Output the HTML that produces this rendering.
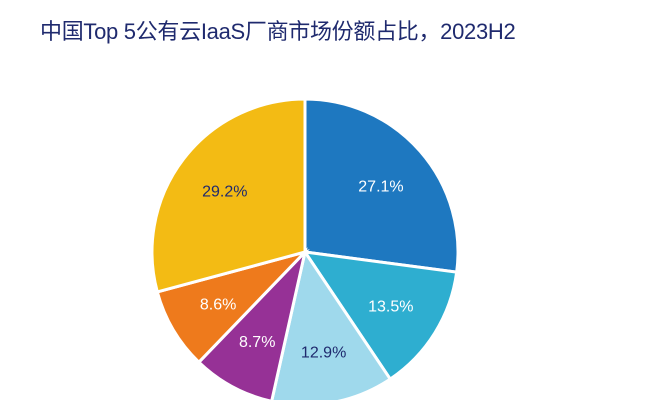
<!DOCTYPE html>
<html><head><meta charset="utf-8"><style>
body{margin:0;width:645px;height:400px;overflow:hidden;background:#fff;}
#title{position:absolute;left:40px;top:14px;font:22px "Liberation Sans","Noto Sans CJK SC",sans-serif;color:#1f2a6e;letter-spacing:-0.3px;white-space:nowrap;}
svg{position:absolute;left:0;top:0;}
</style></head><body>
<div id="title">中国Top 5公有云IaaS厂商市场份额占比，2023H2</div>
<svg id="chart" width="645" height="400"></svg>
<script>
const labels=["27.1%","13.5%","12.9%","8.7%","8.6%","29.2%"];
const values=[27.1,13.5,12.9,8.7,8.6,29.2];
const colors=["#1e78c0","#2eaed0","#9fd9ec","#963196","#ee7a1c","#f3bb14"];
const cx=305,cy=252,r=153;
const svg=document.getElementById('chart');
const ns="http://www.w3.org/2000/svg";
const total=values.reduce((a,b)=>a+b,0);
let a0=0;
values.forEach((v,i)=>{
 const a1=a0+v/total*2*Math.PI;
 const p=(a)=>[cx+r*Math.sin(a),cy-r*Math.cos(a)];
 const [x0,y0]=p(a0),[x1,y1]=p(a1);
 const path=document.createElementNS(ns,'path');
 path.setAttribute('d',`M${cx},${cy}L${x0},${y0}A${r},${r} 0 ${a1-a0>Math.PI?1:0} 1 ${x1},${y1}Z`);
 path.setAttribute('fill',colors[i]);
 path.setAttribute('stroke','#fff');
 path.setAttribute('stroke-width','3');
 
 
 svg.appendChild(path);
 const am=(a0+a1)/2, lr=r*0.66;
 const t=document.createElementNS(ns,'text');
 t.setAttribute('x',cx+lr*Math.sin(am));
 t.setAttribute('y',cy-lr*Math.cos(am)+6);
 t.setAttribute('text-anchor','middle');
 t.setAttribute('font-family','Liberation Sans, sans-serif');
 t.setAttribute('font-size','16');
 t.setAttribute('fill',i==2?'#1f2a6e':(i==5?'#1f2a6e':'#fff'));
 t.textContent=labels[i];
 
 
 svg.appendChild(t);
 a0=a1;
});
</script>
</body></html>
